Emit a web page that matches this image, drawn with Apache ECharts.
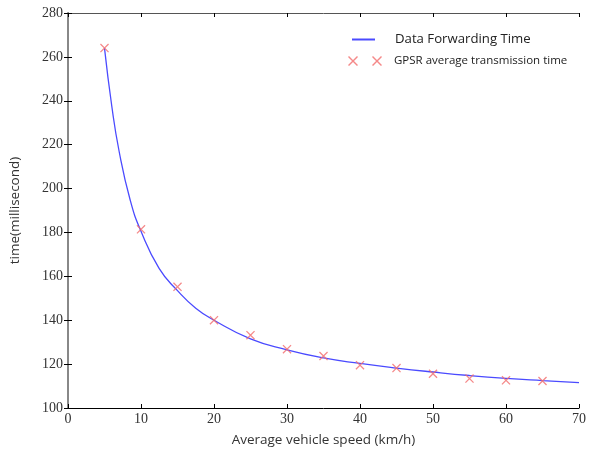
<!DOCTYPE html>
<html><head><meta charset="utf-8">
<script src="https://cdn.jsdelivr.net/npm/echarts@6/dist/echarts.min.js"></script>
<style>html,body{margin:0;padding:0;background:#fff}#c{width:596px;height:452px}</style>
</head><body><div id="c"></div>
<script>
// Data Forwarding Time curve
const lineX = [5, 6, 7, 8.5, 10, 12.5, 15, 17.5, 20, 25, 30, 35, 40, 45, 50, 55, 60, 65, 70];
const lineY = [264, 237.5, 217, 195, 180.5, 163.5, 153.5, 145.5, 140, 131.5, 126.5, 122.8, 120.3, 118.2, 116.4, 114.8, 113.5, 112.5, 111.6];
// GPSR average transmission time markers
const gpsrX = [5, 10, 15, 20, 25, 30, 35, 40, 45, 50, 55, 60, 65];
const gpsrY = [264, 181.4, 155.2, 140, 133.2, 126.8, 123.7, 119.5, 118.2, 115.6, 113.4, 112.6, 112.3];
const xTicks = [0, 10, 20, 30, 40, 50, 60, 70];
const yTicks = [100, 120, 140, 160, 180, 200, 220, 240, 260, 280];

const lineName = 'Data Forwarding Time';
const gpsrName = 'GPSR average transmission time';
const X_PATH = 'path://M0,1L1,0L10,9L9,10ZM9,0L10,1L1,10L0,9Z';
const X2_PATH = 'path://M0,1L1,0L10,9L9,10ZM9,0L10,1L1,10L0,9ZM24,1L25,0L34,9L33,10ZM33,0L34,1L25,10L24,9Z';
const serif = 'Liberation Serif';
const sans = 'Open Sans';

const chart = echarts.init(document.getElementById('c'), null, {renderer: 'canvas'});
const tickLabel = {fontFamily: serif, fontSize: 14, color: '#333'};
chart.setOption({
  animation: false,
  backgroundColor: '#fff',
  grid: {left: 66, right: 17, top: 13, bottom: 41, containLabel: false},
  legend: [
    {data: [lineName], left: 347, top: 28, itemWidth: 23, itemHeight: 2, icon: 'rect',
     itemStyle: {color: '#4a4aff'},
     textStyle: {fontFamily: sans, fontSize: 13.2, color: '#222', padding: [0, 0, 0, 15]}},
    {data: [gpsrName], left: 343, top: 50, itemWidth: 34, itemHeight: 10, icon: X2_PATH,
     itemStyle: {color: '#f26b6b'},
     textStyle: {fontFamily: sans, fontSize: 11.5, color: '#222', padding: [0, 0, 0, 7]}}
  ],
  xAxis: [
    {type: 'value', min: xTicks[0], max: xTicks[xTicks.length - 1], interval: 10,
     name: 'Average vehicle speed (km/h)', nameLocation: 'middle', nameGap: 25,
     nameTextStyle: {fontFamily: sans, fontSize: 13.5, color: '#333'},
     axisLine: {show: true, lineStyle: {color: '#000', width: 1}},
     axisTick: {show: true, inside: true, length: 4, lineStyle: {color: '#000'}},
     axisLabel: Object.assign({margin: 4}, tickLabel),
     splitLine: {show: false}},
    {type: 'value', position: 'top', min: xTicks[0], max: xTicks[xTicks.length - 1], interval: 10,
     axisLine: {show: true, lineStyle: {color: '#555', width: 1}},
     axisTick: {show: true, inside: true, length: 4, lineStyle: {color: '#000'}},
     axisLabel: {show: false}, splitLine: {show: false}}
  ],
  yAxis: [
    {type: 'value', min: yTicks[0], max: yTicks[yTicks.length - 1], interval: 20,
     name: 'time(millisecond)', nameLocation: 'middle', nameGap: 46, nameRotate: 90,
     nameTextStyle: {fontFamily: sans, fontSize: 13.5, color: '#333'},
     axisLine: {show: true, lineStyle: {color: '#000', width: 1}},
     axisTick: {show: true, inside: true, length: 4, lineStyle: {color: '#000'}},
     axisLabel: Object.assign({margin: 5}, tickLabel),
     splitLine: {show: false}},
    {type: 'value', position: 'right', min: yTicks[0], max: yTicks[yTicks.length - 1], interval: 20,
     axisLine: {show: true, lineStyle: {color: '#888', width: 2}},
     axisTick: {show: true, inside: true, length: 4, lineStyle: {color: '#000'}},
     axisLabel: {show: false}, splitLine: {show: false}}
  ],
  series: [
    {name: lineName, type: 'line', smooth: 0.5, showSymbol: false, symbol: 'none',
     data: lineX.map((x, i) => [x, lineY[i]]),
     lineStyle: {color: '#4a4aff', width: 1.3}, itemStyle: {color: '#4a4aff'}, z: 2},
    {name: gpsrName, type: 'scatter', symbol: X_PATH, symbolSize: 9,
     data: gpsrX.map((x, i) => [x, gpsrY[i]]),
     itemStyle: {color: '#f26b6b'}, z: 3}
  ]
});
</script></body></html>
